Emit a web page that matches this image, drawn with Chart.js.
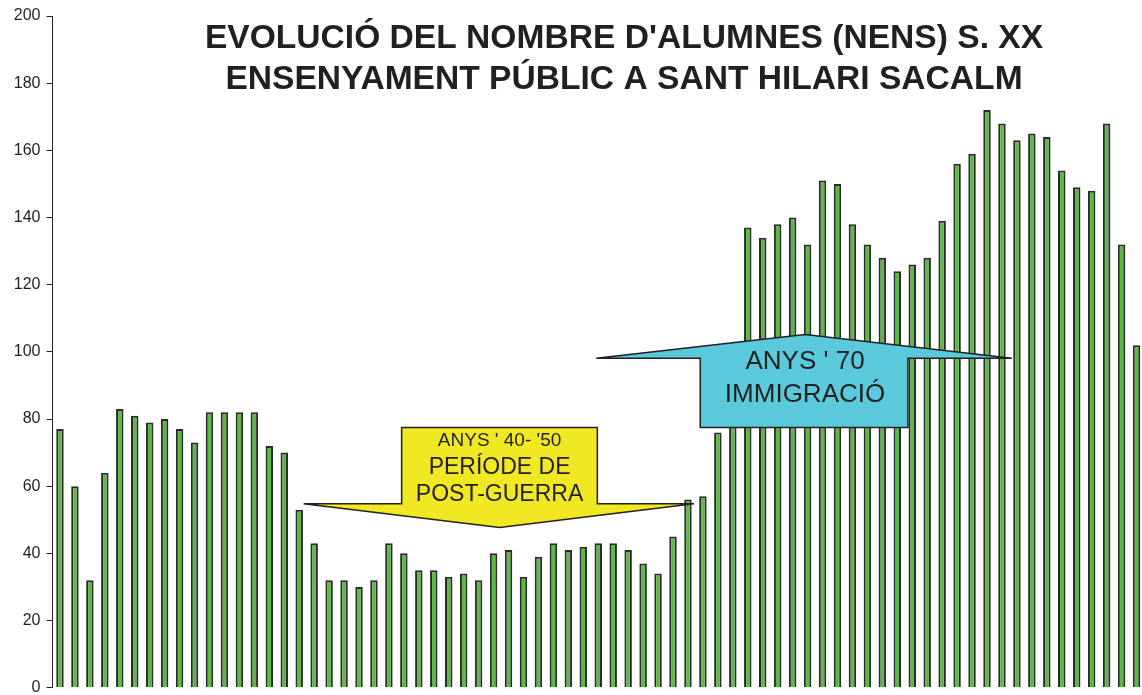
<!DOCTYPE html>
<html>
<head>
<meta charset="utf-8">
<script src="https://cdn.jsdelivr.net/npm/chart.js@4"></script>
<style>
  html, body { margin: 0; padding: 0; background: #fff; overflow: hidden; }
  #wrap { width: 1144px; height: 695px; position: relative; }
</style>
</head>
<body>
<div id="wrap"><canvas id="chart"></canvas></div>
<script>
// Cursos (sense etiquetes a l'eix X a l'original)
const cursos = [
  1, 2, 3, 4, 5, 6, 7, 8, 9, 10, 11, 12, 13, 14, 15, 16, 17, 18, 19, 20,
  21, 22, 23, 24, 25, 26, 27, 28, 29, 30, 31, 32, 33, 34, 35, 36, 37, 38, 39, 40,
  41, 42, 43, 44, 45, 46, 47, 48, 49, 50, 51, 52, 53, 54, 55, 56, 57, 58, 59, 60,
  61, 62, 63, 64, 65, 66, 67, 68, 69, 70, 71, 72, 73
];

// Nombre d'alumnes (nens) per curs
const alumnes = [
  77, 60, 32, 64, 83, 81, 79, 80, 77, 73, 82, 82, 82, 82, 72, 70, 53, 43, 32, 32,
  30, 32, 43, 40, 35, 35, 33, 34, 32, 40, 41, 33, 39, 43, 41, 42, 43, 43, 41, 37,
  34, 45, 56, 57, 76, 90, 137, 134, 138, 140, 132, 151, 150, 138, 132, 128, 124, 126, 128, 139,
  156, 159, 172, 168, 163, 165, 164, 154, 149, 148, 168, 132, 102
];

const yTicks = [0, 20, 40, 60, 80, 100, 120, 140, 160, 180, 200];

const titleLines = [
  "EVOLUCIÓ DEL NOMBRE D'ALUMNES (NENS) S. XX",
  "ENSENYAMENT PÚBLIC A SANT HILARI SACALM"
];

// Fletxes de text (punts en unitats del gràfic: índex de curs, alumnes)
const calloutPostGuerra = {
  fill: '#f0e823',
  points: [[22.85, 77.5], [35.94, 77.5], [35.94, 54.8], [42.4, 54.8], [29.4, 47.7], [16.3, 54.8], [22.85, 54.8]],
  lines: [
    { text: "ANYS ' 40- '50", size: 19, at: [29.4, 73.6] },
    { text: 'PERÍODE DE', size: 23, at: [29.4, 65.5] },
    { text: 'POST-GUERRA', size: 23, at: [29.4, 57.4] }
  ]
};
const calloutImmigracio = {
  fill: '#5bc9dc',
  points: [[42.82, 77.5], [42.82, 98.1], [35.87, 98.1], [49.83, 105.2], [63.66, 98.1], [56.71, 98.1], [56.71, 77.5]],
  lines: [
    { text: "ANYS ' 70", size: 26, at: [49.83, 96.9] },
    { text: 'IMMIGRACIÓ', size: 26, at: [49.83, 87.1] }
  ]
};

const textColor = '#231f20';

const overlayPlugin = {
  id: 'overlay',
  afterDatasetsDraw(chart) {
    const ctx = chart.ctx;
    const xs = chart.scales.x;
    const ys = chart.scales.y;
    const px = v => xs.getPixelForValue(0) + v * (xs.getPixelForValue(1) - xs.getPixelForValue(0));
    const py = v => ys.getPixelForValue(v);

    [calloutPostGuerra, calloutImmigracio].forEach(c => {
      ctx.save();
      ctx.beginPath();
      c.points.forEach((p, i) => {
        if (i === 0) ctx.moveTo(px(p[0]), py(p[1]));
        else ctx.lineTo(px(p[0]), py(p[1]));
      });
      ctx.closePath();
      ctx.fillStyle = c.fill;
      ctx.fill();
      ctx.lineWidth = 1.5;
      ctx.strokeStyle = '#231f20';
      ctx.lineJoin = 'miter';
      ctx.stroke();
      ctx.fillStyle = textColor;
      ctx.textAlign = 'center';
      ctx.textBaseline = 'middle';
      c.lines.forEach(l => {
        ctx.font = l.size + 'px "Liberation Sans", Arial, sans-serif';
        ctx.fillText(l.text, px(l.at[0]), py(l.at[1]));
      });
      ctx.restore();
    });

    // Títol
    ctx.save();
    ctx.fillStyle = textColor;
    ctx.textAlign = 'center';
    ctx.textBaseline = 'middle';
    ctx.font = 'bold 33.6px "Liberation Sans", Arial, sans-serif';
    ctx.fillText(titleLines[0], 624, 39);
    ctx.fillText(titleLines[1], 624, 80);
    ctx.restore();
  }
};

new Chart(document.getElementById('chart'), {
  type: 'bar',
  data: {
    labels: cursos,
    datasets: [{
      label: 'Alumnes',
      data: alumnes,
      backgroundColor: '#5cb946',
      borderColor: '#2b2b2b',
      borderWidth: 2,
      barPercentage: 0.5,
      categoryPercentage: 1.0
    }]
  },
  options: {
    responsive: true,
    maintainAspectRatio: false,
    animation: false,
    layout: { padding: { top: 16, bottom: 0, left: 0, right: 0 } },
    plugins: {
      legend: { display: false },
      tooltip: { enabled: false }
    },
    scales: {
      x: {
        display: false
      },
      y: {
        min: 0,
        max: 200,
        afterFit: scale => {
          scale.width = 52.5;
          scale.paddingTop = 0;
          scale.paddingBottom = 7.3;
        },
        afterBuildTicks: scale => { scale.ticks = yTicks.map(v => ({ value: v })); },
        border: { display: true, color: '#231f20', width: 1 },
        grid: { drawOnChartArea: false, drawTicks: true, tickLength: 6, color: '#231f20' },
        ticks: {
          color: textColor,
          padding: 6,
          font: { family: '"Liberation Sans", Arial, sans-serif', size: 16, lineHeight: 1 }
        }
      }
    }
  },
  plugins: [overlayPlugin]
});
</script>
</body>
</html>
